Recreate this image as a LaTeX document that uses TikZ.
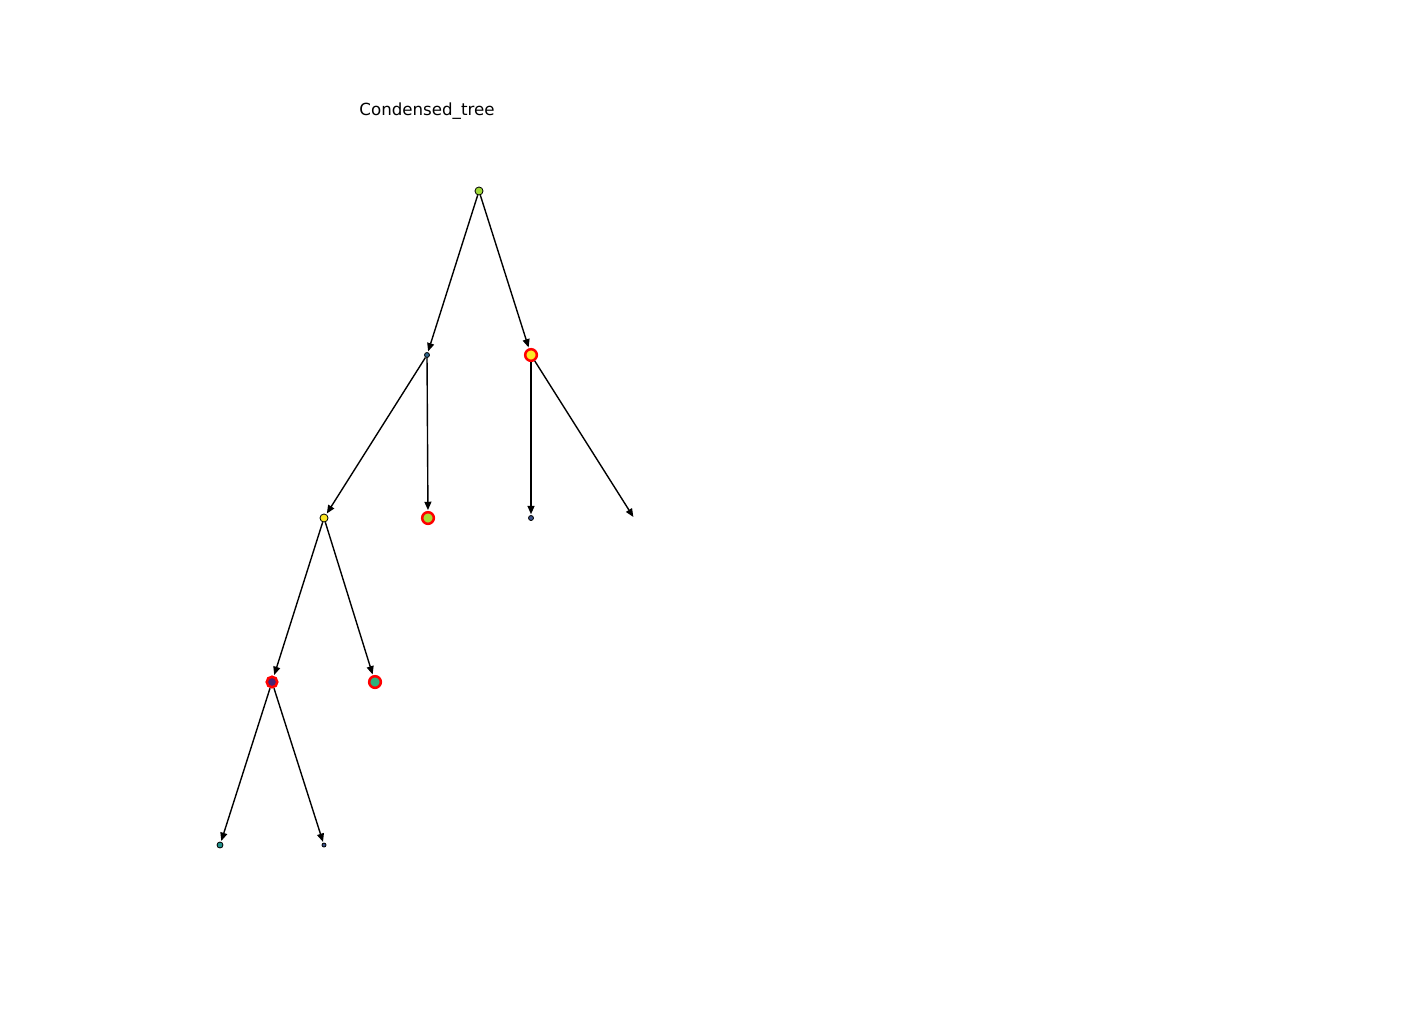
\documentclass[tikz,border=0pt]{standalone}
\usepackage{fontspec}
\setmainfont{DejaVu Sans}
\usepackage{tikz}
\usetikzlibrary{arrows.meta}
\definecolor{vgreen}{HTML}{A0DA39}
\definecolor{vblue}{HTML}{31688E}
\definecolor{vyellow}{HTML}{FDE725}
\definecolor{vlime}{HTML}{A8DB34}
\definecolor{vnavy}{HTML}{3B528B}
\definecolor{vpurple}{HTML}{482173}
\definecolor{vmint}{HTML}{2DB27D}
\definecolor{vteal}{HTML}{21918C}
\tikzset{
  tnode/.style={circle,draw=black,line width=0.6pt,inner sep=0pt},
  chosen/.style={circle,draw=red,line width=1.8pt,inner sep=0pt},
  tedge/.style={-{Triangle[length=6pt,width=5pt]},line width=1pt,shorten >=0.6pt}
}

\begin{document}
\begin{tikzpicture}[x=0.72pt,y=-0.72pt]
  \useasboundingbox (0,0) rectangle (1419,1027);
  \node[font=\fontsize{12pt}{14pt}\selectfont] (title) at (427,111) {Condensed\_tree};

  % tree levels
  \node[tnode,fill=vgreen,minimum size=5.8pt] (root) at (479,191) {};
  \node[tnode,fill=vblue,minimum size=3.6pt] (a) at (427,355) {};
  \node[chosen,fill=vyellow,minimum size=8.4pt] (b) at (531,355) {};
  \node[tnode,fill=vyellow,minimum size=5.8pt] (c) at (324,518) {};
  \node[chosen,fill=vlime,minimum size=8.4pt] (d) at (428,518) {};
  \node[tnode,fill=vnavy,minimum size=3.6pt] (e) at (531,518) {};
  \node[inner sep=0pt,minimum size=0pt] (f) at (634,518) {};
  \node[chosen,fill=vpurple,minimum size=7.6pt] (g) at (272,682) {};
  \node[chosen,fill=vmint,minimum size=8.4pt] (h) at (375,682) {};
  \node[tnode,fill=vteal,minimum size=4.3pt] (i) at (220,845) {};
  \node[tnode,fill=vnavy,minimum size=2.9pt] (j) at (324,845) {};

  \draw[tedge] (root) -- (a);
  \draw[tedge] (root) -- (b);
  \draw[tedge] (a) -- (c);
  \draw[tedge] (a) -- (d);
  \draw[tedge] (b) -- (e);
  \draw[tedge] (b) -- (f);
  \draw[tedge] (c) -- (g);
  \draw[tedge] (c) -- (h);
  \draw[tedge] (g) -- (i);
  \draw[tedge] (g) -- (j);
\end{tikzpicture}
\end{document}
